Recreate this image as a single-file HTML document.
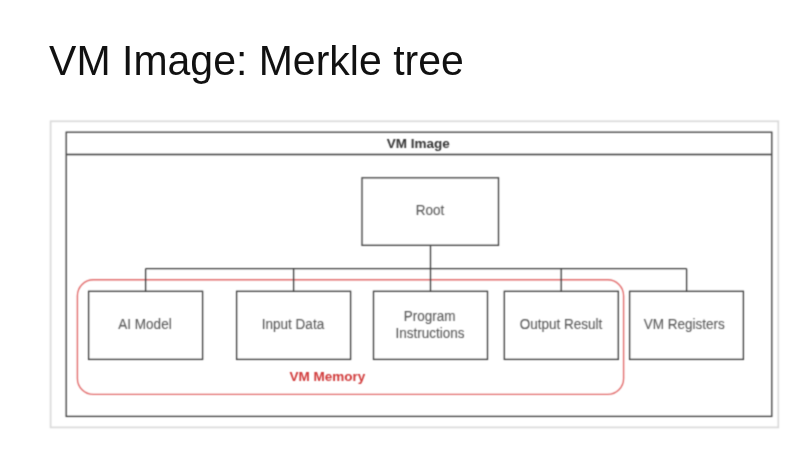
<!DOCTYPE html>
<html>
<head>
<meta charset="utf-8">
<style>
html,body{margin:0;padding:0;background:#fff;}
body{width:800px;height:451px;position:relative;overflow:hidden;font-family:"Liberation Sans",sans-serif;}
.title{position:absolute;left:49.1px;top:41.3px;transform:scaleY(1.03);transform-origin:0 34.7px;font-size:41px;color:#111;white-space:nowrap;line-height:41px;}
.dg{position:absolute;left:0;top:100px;width:800px;height:351px;filter:url(#soft);background:#fff;}
.dg svg.d{position:absolute;left:0;top:-100px;}
.t{position:absolute;white-space:nowrap;text-align:center;line-height:13.5px;font-size:13.5px;width:200px;transform:scaleY(1.04);transform-origin:50% 11.4px;}
.n{color:#595959;-webkit-text-stroke:0.1px #595959;}
.b{font-weight:bold;transform:none;}
.kl{display:inline-block;transform:scaleY(0.96);transform-origin:0 34.7px;}
</style>
</head>
<body>
<svg width="0" height="0" style="position:absolute;left:0;top:0">
  <filter id="soft" x="0" y="0" width="100%" height="100%" color-interpolation-filters="sRGB">
    <feConvolveMatrix order="3" kernelMatrix="0.04 0.12 0.04 0.12 0.36 0.12 0.04 0.12 0.04" edgeMode="duplicate" preserveAlpha="false"/>
  </filter>
</svg>
<div class="title">VM Image: Mer<span class="kl">kl</span>e tree</div>
<div class="dg">
<svg class="d" width="800" height="451" viewBox="0 0 800 451">
  <rect x="50.6" y="121.3" width="727.7" height="306.1" fill="none" stroke="#dadada" stroke-width="1.7"/>
  <rect x="77.4" y="279.8" width="546.2" height="114.6" rx="16" ry="16" fill="none" stroke="#e26c6c" stroke-width="1.4"/>
  <g fill="none" stroke="#3d3d3d" stroke-width="1.3">
    <rect x="66.2" y="132.2" width="705.6" height="284.2"/>
    <line x1="66.2" y1="154.5" x2="771.8" y2="154.5"/>
    <rect x="362" y="177.8" width="136.5" height="67.5"/>
    <line x1="430.5" y1="245.3" x2="430.5" y2="291.3"/>
    <line x1="145.6" y1="268.6" x2="686.6" y2="268.6"/>
    <line x1="145.6" y1="268.6" x2="145.6" y2="291.3"/>
    <line x1="293.6" y1="268.6" x2="293.6" y2="291.3"/>
    <line x1="561.2" y1="268.6" x2="561.2" y2="291.3"/>
    <line x1="686.6" y1="268.6" x2="686.6" y2="291.3"/>
    <rect x="88.6" y="291.3" width="114" height="68.1"/>
    <rect x="236.6" y="291.3" width="114" height="68.1"/>
    <rect x="373.5" y="291.3" width="114" height="68.1"/>
    <rect x="504.3" y="291.3" width="114" height="68.1"/>
    <rect x="629.6" y="291.3" width="113.8" height="68.1"/>
  </g>
</svg>
<div class="t b" style="left:318.15px;top:36.6px;color:#333;">VM Image</div>
<div class="t n" style="left:330px;top:104.3px;">Root</div>
<div class="t n" style="left:45px;top:218.3px;">AI Model</div>
<div class="t n" style="left:193px;top:218.3px;">Input Data</div>
<div class="t n" style="left:329.7px;top:210px;">Program</div>
<div class="t n" style="left:330px;top:226.5px;">Instructions</div>
<div class="t n" style="left:461.1px;top:218.3px;">Output Result</div>
<div class="t n" style="left:584.3px;top:218.3px;">VM Registers</div>
<div class="t b" style="left:227.35px;top:269.7px;color:#d03838;">VM Memory</div>
</div>
</body>
</html>
